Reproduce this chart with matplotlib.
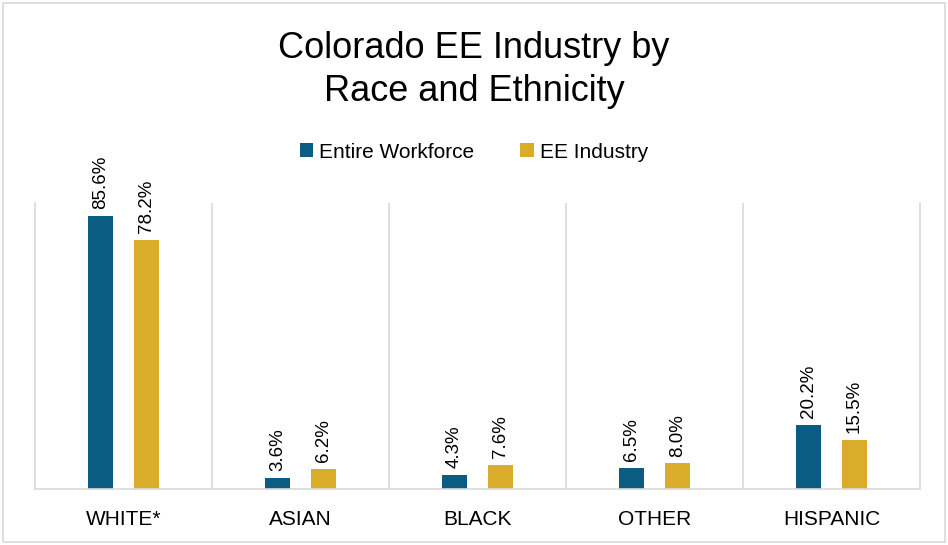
import matplotlib
matplotlib.use("Agg")
import matplotlib.pyplot as plt
from matplotlib.patches import Rectangle
import numpy as np

# Data
categories = ["WHITE*", "ASIAN", "BLACK", "OTHER", "HISPANIC"]
entire_workforce = [85.6, 3.6, 4.3, 6.5, 20.2]
ee_industry = [78.2, 6.2, 7.6, 8.0, 15.5]
series_names = ["Entire Workforce", "EE Industry"]

blue = "#0B5C82"
gold = "#D9AC2A"
grid_gray = "#D9D9D9"

plt.rcParams["font.family"] = ["Liberation Sans", "DejaVu Sans"]

fig = plt.figure(figsize=(9.48, 5.45), dpi=100)
ax = fig.add_axes([35 / 948, 1 - 489 / 545, (920 - 35) / 948, (489 - 203) / 545])

x = np.arange(len(categories))
width = 0.136
offset = 0.13
b1 = ax.bar(x - offset, entire_workforce, width, color=blue, label=series_names[0])
b2 = ax.bar(x + offset, ee_industry, width, color=gold, label=series_names[1])

# rotated value labels above each bar
for bars, vals in [(b1, entire_workforce), (b2, ee_industry)]:
    for bar, v in zip(bars, vals):
        ax.annotate(f"{v:.1f}%", (bar.get_x() + bar.get_width() / 2, v),
                    xytext=(0, 5), textcoords="offset points",
                    rotation=90, ha="center", va="bottom", fontsize=13.5)

ax.set_xlim(-0.5, len(categories) - 0.5)
ax.set_ylim(0, 89.7)
ax.set_yticks([])
ax.set_xticks(x)
ax.set_xticklabels(categories, fontsize=15)
ax.tick_params(axis="x", length=0, pad=15)

# vertical separators between categories
for sep in np.arange(0.5, len(categories) - 0.5, 1):
    ax.axvline(sep, color=grid_gray, lw=1.2, zorder=0)

for side in ["left", "right", "bottom"]:
    ax.spines[side].set_color(grid_gray)
    ax.spines[side].set_linewidth(1.2)
ax.spines["top"].set_visible(False)

fig.text(0.5, 1 - 48 / 545, "Colorado EE Industry by", ha="center", va="center", fontsize=26)
fig.text(0.5, 1 - 91 / 545, "Race and Ethnicity", ha="center", va="center", fontsize=26)

fig.legend(loc="center", bbox_to_anchor=(0.5, 1 - 152 / 545), ncol=2, frameon=False,
           fontsize=15, handlelength=0.65, handleheight=0.65, handletextpad=0.3,
           columnspacing=2.2)

# light border around the whole chart
fig.patches.append(Rectangle((3 / 948, 3 / 545), 942 / 948, 539 / 545, fill=False,
                             edgecolor=grid_gray, lw=1.2, transform=fig.transFigure))

fig.savefig("out.png", dpi=100)
